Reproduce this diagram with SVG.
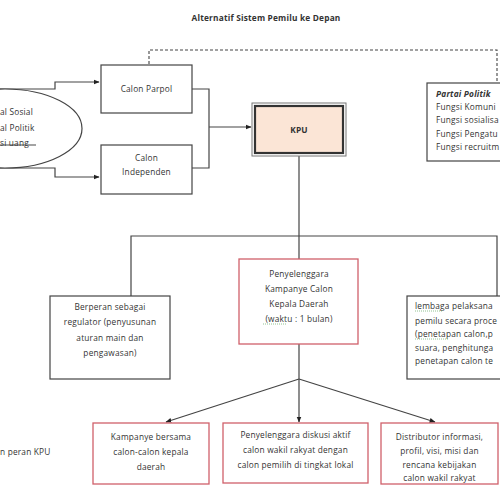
<svg xmlns="http://www.w3.org/2000/svg" width="500" height="500" viewBox="0 0 500 500">
<style>
text{font-family:"Open Sans","Liberation Sans",sans-serif;font-size:8.3px;fill:#333;letter-spacing:0.2px}
.c{text-anchor:middle}
.b{fill:#fff;stroke:#444;stroke-width:1.2}
.r{fill:#fff;stroke:#d0606a;stroke-width:1.3}
.ln{fill:none;stroke:#444;stroke-width:1.2}
.d{fill:none;stroke:#444;stroke-width:1.1;stroke-dasharray:3,2}
</style>
<defs>
<marker id="a" viewBox="0 0 10 10" refX="9" refY="5" markerWidth="6" markerHeight="6" orient="auto" markerUnits="userSpaceOnUse">
<path d="M0,1 L10,5 L0,9 z" fill="#222"/>
</marker>
</defs>
<rect width="500" height="500" fill="#fff"/>
<text x="266" y="21" class="c" font-weight="bold">Alternatif Sistem Pemilu ke Depan</text>

<g id="connectors">
<polyline class="d" points="149,64 149,50 497,50 497,83"/>
<polyline class="ln" points="0,89 55,89 55,82 99,82" marker-end="url(#a)"/>
<polyline class="ln" points="0,168 55,168 55,177 99,177" marker-end="url(#a)"/>
<polyline class="ln" points="192,89 209,89 209,168 192,168"/>
<line class="ln" x1="209" y1="127" x2="251" y2="127" marker-end="url(#a)"/>
<line class="ln" x1="299" y1="156" x2="299" y2="259"/>
<polyline class="ln" points="131,296 131,236 497,236 497,296"/>
<polyline class="ln" points="299,344 299,379"/>
<line class="ln" x1="299" y1="379" x2="166" y2="422" marker-end="url(#a)"/>
<line class="ln" x1="299" y1="379" x2="299" y2="422" marker-end="url(#a)"/>
<line class="ln" x1="299" y1="379" x2="435" y2="422" marker-end="url(#a)"/>
</g>

<g id="modal">
<ellipse cx="5" cy="128.5" rx="77" ry="39.5" class="b"/>
<text x="0" y="115">al Sosial</text>
<text x="0" y="131">al Politik</text>
<text x="0" y="146">si uang</text>
<line x1="0" y1="145" x2="36" y2="145" stroke="#333" stroke-width="0.9"/>
</g>

<g id="calon-parpol">
<rect x="101" y="65" width="91" height="48" class="b"/>
<text x="146.5" y="92" class="c">Calon Parpol</text>
</g>

<g id="calon-independen">
<rect x="101" y="145" width="91" height="49" class="b"/>
<text x="146.5" y="161" class="c">Calon</text>
<text x="146.5" y="175" class="c">Independen</text>
</g>

<g id="kpu">
<rect x="252" y="103" width="94" height="53" fill="#fff" stroke="#777" stroke-width="1"/>
<rect x="255" y="106" width="88" height="47" fill="#fbe5d6" stroke="#333" stroke-width="2.2"/>
<text x="299" y="133" class="c" font-weight="bold">KPU</text>
</g>

<g id="partai-politik">
<rect x="427" y="83" width="80" height="78" class="b"/>
<text x="436" y="97" font-weight="bold" font-style="italic">Partai Politik</text>
<text x="436" y="110">Fungsi Komuni</text>
<text x="436" y="123">Fungsi sosialisa</text>
<text x="436" y="137">Fungsi Pengatu</text>
<text x="436" y="150">Fungsi recruitm</text>
</g>

<g id="penyelenggara">
<rect x="239" y="259" width="119" height="85" class="r"/>
<text x="299" y="277" class="c">Penyelenggara</text>
<text x="299" y="292" class="c">Kampanye Calon</text>
<text x="299" y="307" class="c">Kepala Daerah</text>
<text x="299" y="322" class="c">(waktu : 1 bulan)</text>
<line x1="263" y1="324" x2="286" y2="324" stroke="#6a6" stroke-width="0.7" stroke-dasharray="1,1"/>
</g>

<g id="regulator">
<rect x="50" y="296" width="120" height="83" class="b"/>
<text x="110" y="310" class="c">Berperan sebagai</text>
<text x="110" y="325" class="c">regulator (penyusunan</text>
<text x="110" y="341" class="c">aturan main dan</text>
<text x="110" y="356" class="c">pengawasan)</text>
</g>

<g id="lembaga">
<rect x="407" y="296" width="100" height="83" class="b"/>
<text x="415" y="309">lembaga pelaksana</text>
<text x="415" y="324">pemilu secara proce</text>
<text x="415" y="337">(penetapan calon,p</text>
<text x="415" y="351">suara,  penghitunga</text>
<text x="415" y="364">penetapan calon te</text>
<line x1="415" y1="311" x2="442" y2="311" stroke="#6a6" stroke-width="0.7" stroke-dasharray="1,1"/>
<line x1="415" y1="339" x2="448" y2="339" stroke="#6a6" stroke-width="0.7" stroke-dasharray="1,1"/>
</g>

<g id="kampanye-bersama">
<rect x="93" y="423" width="116" height="61" class="r"/>
<text x="151" y="440" class="c">Kampanye bersama</text>
<text x="151" y="455" class="c">calon-calon kepala</text>
<text x="151" y="470" class="c">daerah</text>
</g>

<g id="diskusi">
<rect x="223" y="423" width="145" height="60" class="r"/>
<text x="295.5" y="438" class="c">Penyelenggara diskusi aktif</text>
<text x="295.5" y="453" class="c">calon wakil rakyat dengan</text>
<text x="295.5" y="468" class="c">calon pemilih di tingkat lokal</text>
</g>

<g id="distributor">
<rect x="381" y="423" width="117" height="61" class="r"/>
<text x="439.5" y="440" class="c">Distributor informasi,</text>
<text x="439.5" y="454" class="c">profil, visi, misi dan</text>
<text x="439.5" y="468" class="c">rencana kebijakan</text>
<text x="439.5" y="481" class="c">calon wakil rakyat</text>
</g>

<text x="0" y="455">n peran KPU</text>
</svg>
